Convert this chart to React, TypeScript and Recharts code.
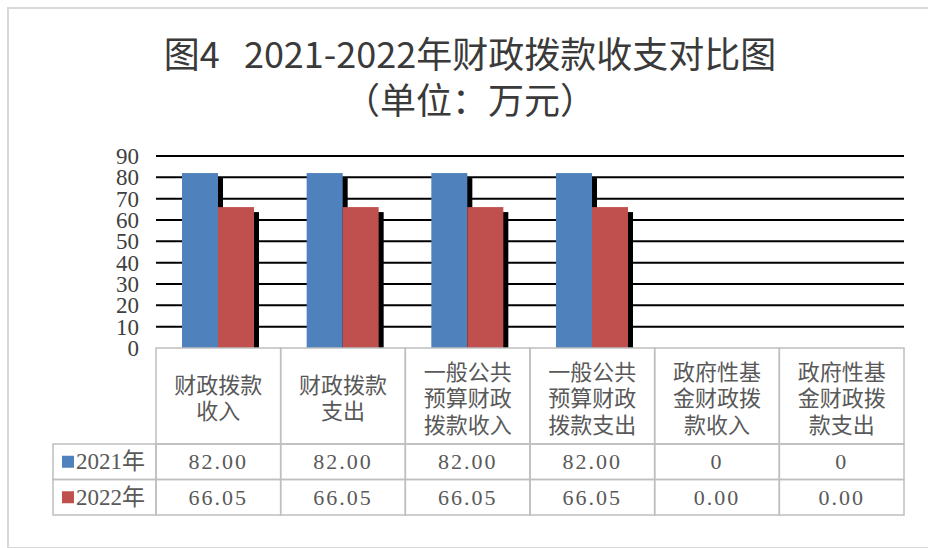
import { Bar, BarChart, CartesianGrid, XAxis, YAxis } from "recharts";

const categories = [
  "财政拨款收入",
  "财政拨款支出",
  "一般公共预算财政拨款收入",
  "一般公共预算财政拨款支出",
  "政府性基金财政拨款收入",
  "政府性基金财政拨款支出",
];
const values2021 = [82, 82, 82, 82, 0, 0];
const values2022 = [66.05, 66.05, 66.05, 66.05, 0, 0];
const labels2021 = ["82.00", "82.00", "82.00", "82.00", "0", "0"];
const labels2022 = ["66.05", "66.05", "66.05", "66.05", "0.00", "0.00"];
const seriesNames = ["2021年", "2022年"];
const yTicks = [0, 10, 20, 30, 40, 50, 60, 70, 80, 90];

const BLUE = "#4F81BD";
const RED = "#C0504D";
const BORDER = "#bfbfbf";
const TEXT = "#595959";
const SERIF = "'Liberation Serif', 'Noto Sans CJK SC', serif";

const data = categories.map((c, i) => ({ name: c, y2021: values2021[i], y2022: values2022[i] }));

const BAND = 748 / categories.length;

function ShadowBar(props: any) {
  const { x, y, width, height, fill } = props;
  if (!height || height <= 0) return null;
  return (
    <g>
      <rect x={x + 5} y={y + 5} width={width} height={Math.max(height - 5, 0)} fill="#000" />
      <rect x={x} y={y} width={width} height={height} fill={fill} />
    </g>
  );
}

function chunk(s: string, n: number) {
  const out: string[] = [];
  for (let i = 0; i < s.length; i += n) out.push(s.slice(i, i + n));
  return out;
}

function TableTick(props: any) {
  const { x, y, payload, index } = props;
  const i = index ?? payload.index;
  const left = x - BAND / 2;
  const top = y;
  const headH = 96;
  const rowH = 35.5;
  const lines = chunk(payload.value, 4);
  const mid = top + headH / 2;
  const lh = 26.5;
  return (
    <g>
      <rect x={left} y={top} width={BAND} height={headH} fill="none" stroke={BORDER} strokeWidth={1.5} />
      <rect x={left} y={top + headH} width={BAND} height={rowH} fill="none" stroke={BORDER} strokeWidth={1.5} />
      <rect x={left} y={top + headH + rowH} width={BAND} height={rowH} fill="none" stroke={BORDER} strokeWidth={1.5} />
      {lines.map((l, k) => (
        <text
          key={k}
          x={x}
          y={mid + (k - (lines.length - 1) / 2) * lh}
          textAnchor="middle"
          dominantBaseline="central"
          fontFamily="'Noto Sans CJK SC', sans-serif"
          fontSize={22}
          fill={TEXT}
        >
          {l}
        </text>
      ))}
      <text x={x} y={top + headH + rowH / 2} textAnchor="middle" dominantBaseline="central" fontFamily={SERIF} fontSize={22} letterSpacing={2} fill={TEXT}>
        {labels2021[i]}
      </text>
      <text x={x} y={top + headH + rowH * 1.5} textAnchor="middle" dominantBaseline="central" fontFamily={SERIF} fontSize={22} letterSpacing={2} fill={TEXT}>
        {labels2022[i]}
      </text>
      {i === 0 && (
        <g>
          {seriesNames.map((s, k) => (
            <g key={s}>
              <rect x={left - 103} y={top + headH + rowH * k} width={103} height={rowH} fill="none" stroke={BORDER} strokeWidth={1.5} />
              <rect x={left - 94} y={top + headH + rowH * k + rowH / 2 - 6} width={12} height={12} fill={k === 0 ? BLUE : RED} />
              <text x={left - 80} y={top + headH + rowH * (k + 0.5)} dominantBaseline="central" fontFamily={SERIF} fontSize={23} fill={TEXT}>
                {s}
              </text>
            </g>
          ))}
        </g>
      )}
    </g>
  );
}

export default function App() {
  return (
    <div style={{ position: "absolute", left: 0, top: 0, width: 928, height: 548, background: "#fff", overflow: "hidden" }}>
      <div
        style={{
          position: "absolute",
          left: 7,
          top: 7,
          width: 940,
          height: 538,
          border: "2px solid #d9d9d9",
        }}
      />
      <div
        style={{
          position: "absolute",
          left: 0,
          top: 29,
          width: 940,
          textAlign: "center",
          fontFamily: "'Noto Sans CJK SC', sans-serif",
          fontSize: 36,
          lineHeight: "46px",
          color: "#3a3a3a",
          whiteSpace: "pre",
        }}
      >
        {"图4   2021-2022年财政拨款收支对比图"}
        <br />
        （单位：万元）
      </div>
      <div style={{ position: "absolute", left: 0, top: 0 }}>
        <BarChart
          width={928}
          height={548}
          data={data}
          margin={{ top: 156, right: 24, bottom: 0, left: 0 }}
          barSize={36}
          barGap={0}
        >
          <CartesianGrid vertical={false} stroke="#000" strokeWidth={2} horizontalValues={yTicks.slice(1)} />
          <YAxis
            width={156}
            domain={[0, 90]}
            ticks={yTicks}
            interval={0}
            axisLine={false}
            tickLine={false}
            tickSize={0}
            tickMargin={17}
            tick={{ fontFamily: SERIF, fontSize: 23, fill: "#404040" }}
          />
          <XAxis
            dataKey="name"
            height={200}
            interval={0}
            axisLine={false}
            tickLine={false}
            tickSize={0}
            tickMargin={0}
            tick={<TableTick />}
          />
          <Bar dataKey="y2021" fill={BLUE} shape={<ShadowBar />} isAnimationActive={false} />
          <Bar dataKey="y2022" fill={RED} shape={<ShadowBar />} isAnimationActive={false} />
        </BarChart>
      </div>
    </div>
  );
}
